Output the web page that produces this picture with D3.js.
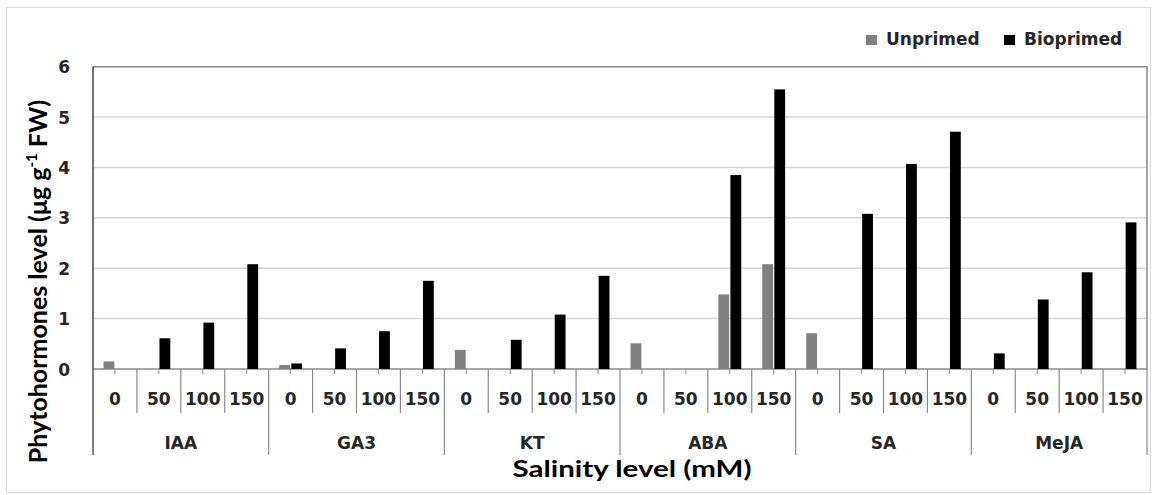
<!DOCTYPE html>
<html>
<head>
<meta charset="utf-8">
<script src="https://cdn.jsdelivr.net/npm/d3@7"></script>
<style>
  body { margin: 0; background: #fff; }
  text { font-family: "DejaVu Sans", Verdana, sans-serif; }
</style>
</head>
<body>
<script>
// hormone groups and salinity levels (mM)
const groups = ["IAA", "GA3", "KT", "ABA", "SA", "MeJA"];
const levels = ["0", "50", "100", "150"];
const seriesNames = ["Unprimed", "Bioprimed"];
const unprimed = [0.15, 0, 0, 0, 0.08, 0, 0, 0, 0.38, 0, 0, 0, 0.51, 0, 1.48, 2.08, 0.71, 0, 0, 0, 0, 0, 0, 0];
const bioprimed = [0, 0.61, 0.92, 2.08, 0.11, 0.41, 0.75, 1.75, 0, 0.58, 1.08, 1.85, 0, 0, 3.85, 5.55, 0, 3.08, 4.07, 4.71, 0.31, 1.38, 1.92, 2.91];
const yTicks = [0, 1, 2, 3, 4, 5, 6];

const width = 1152, height = 495;
const plot = { left: 93, right: 1147, top: 66.7, bottom: 369 };
const colors = { Unprimed: "#808080", Bioprimed: "#000000" };

const svg = d3.select("body").append("svg")
  .attr("width", width)
  .attr("height", height);

// outer chart frame
svg.append("rect")
  .attr("x", 6.5).attr("y", 7.5)
  .attr("width", 1144).attr("height", 485)
  .attr("fill", "none")
  .attr("stroke", "#d9d9d9");

// one row per category (group x level)
const rows = [];
groups.forEach((g, gi) => {
  levels.forEach((l, li) => {
    const i = gi * levels.length + li;
    rows.push({ key: g + "|" + l, group: g, level: l, Unprimed: unprimed[i], Bioprimed: bioprimed[i] });
  });
});

const x = d3.scaleBand()
  .domain(rows.map(d => d.key))
  .range([plot.left, plot.right])
  .paddingInner(0.48)
  .paddingOuter(0.24);
const step = x.step();
const catStart = k => x(k) - x.paddingOuter() * step;

const xs = d3.scaleBand()
  .domain(seriesNames)
  .range([0, x.bandwidth()])
  .paddingInner(0.1);

const y = d3.scaleLinear().domain([0, 6]).range([plot.bottom, plot.top]);

// gridlines
svg.append("g")
  .selectAll("line")
  .data(yTicks.filter(t => t > 0 && t < 6))
  .join("line")
  .attr("x1", plot.left).attr("x2", plot.right)
  .attr("y1", d => y(d)).attr("y2", d => y(d))
  .attr("stroke", "#d6d6d6")
  .attr("stroke-width", 1.5);

// plot border (top/right/bottom)
svg.append("path")
  .attr("d", `M${plot.left},${y(6)}H${plot.right}V${plot.bottom}H${plot.left}`)
  .attr("fill", "none")
  .attr("stroke", "#8a8a8a")
  .attr("stroke-width", 1.5);

// bars
const cat = svg.append("g").selectAll("g")
  .data(rows)
  .join("g")
  .attr("transform", d => `translate(${x(d.key)},0)`);

cat.selectAll("rect")
  .data(d => seriesNames.map(s => ({ s, v: d[s] })))
  .join("rect")
  .attr("x", d => xs(d.s))
  .attr("width", xs.bandwidth())
  .attr("y", d => y(d.v))
  .attr("height", d => y(0) - y(d.v))
  .attr("fill", d => colors[d.s]);

// y axis
const yAxis = svg.append("g")
  .attr("transform", `translate(${plot.left},0)`)
  .call(d3.axisLeft(y).tickValues(yTicks).tickFormat(d3.format("d")).tickSize(0).tickPadding(23));
yAxis.select(".domain").remove();
yAxis.selectAll("text")
  .attr("font-family", "DejaVu Sans")
  .attr("font-weight", "bold")
  .attr("font-size", 17)
  .attr("fill", "#262626")
  .attr("dy", "0.36em");
svg.append("line")
  .attr("x1", plot.left).attr("x2", plot.left)
  .attr("y1", plot.top).attr("y2", 455)
  .attr("stroke", "#404040")
  .attr("stroke-width", 1.5);

// x axis: small ticks at category centres
const xAxis = svg.append("g");
xAxis.selectAll("line.tick")
  .data(rows)
  .join("line")
  .attr("class", "tick")
  .attr("x1", d => x(d.key) + x.bandwidth() / 2)
  .attr("x2", d => x(d.key) + x.bandwidth() / 2)
  .attr("y1", plot.bottom).attr("y2", plot.bottom + 5)
  .attr("stroke", "#8a8a8a");

// category dividers (short) and group dividers (long)
xAxis.selectAll("line.div")
  .data(rows)
  .join("line")
  .attr("class", "div")
  .attr("x1", d => catStart(d.key)).attr("x2", d => catStart(d.key))
  .attr("y1", plot.bottom)
  .attr("y2", d => d.level === levels[0] ? 455 : 413)
  .attr("stroke", "#8a8a8a")
  .attr("stroke-width", 1.2);
xAxis.append("line")
  .attr("x1", plot.right).attr("x2", plot.right)
  .attr("y1", plot.bottom).attr("y2", 455)
  .attr("stroke", "#8a8a8a")
  .attr("stroke-width", 1.2);

// level labels
xAxis.selectAll("text.level")
  .data(rows)
  .join("text")
  .attr("class", "level")
  .attr("x", d => catStart(d.key) + step / 2)
  .attr("y", 405)
  .attr("text-anchor", "middle")
  .attr("font-weight", "bold")
  .attr("font-size", 17)
  .attr("fill", "#262626")
  .text(d => d.level);

// group labels
xAxis.selectAll("text.group")
  .data(groups)
  .join("text")
  .attr("class", "group")
  .attr("x", g => catStart(g + "|" + levels[0]) + step * levels.length / 2)
  .attr("y", 449)
  .attr("text-anchor", "middle")
  .attr("font-weight", "bold")
  .attr("font-size", 17)
  .attr("fill", "#262626")
  .text(g => g);

// axis titles
svg.append("text")
  .attr("x", 632)
  .attr("y", 477)
  .attr("text-anchor", "middle")
  .attr("font-weight", "bold")
  .attr("font-size", 23)
  .attr("fill", "#000")
  .attr("textLength", 239)
  .attr("lengthAdjust", "spacingAndGlyphs")
  .style("font-family", "Lato")
  .text("Salinity level (mM)");

const yTitle = svg.append("text")
  .attr("transform", "translate(47,281.5) rotate(-90)")
  .attr("text-anchor", "middle")
  .attr("font-weight", "bold")
  .attr("font-size", 25)
  .attr("fill", "#000")
  .style("font-family", "Lato");
yTitle.append("tspan").text("Phytohormones level (μg g");
yTitle.append("tspan").attr("font-size", 15).attr("dy", -10).text("-1");
yTitle.append("tspan").attr("dy", 10).text(" FW)");

// legend
const legend = svg.append("g").attr("transform", "translate(866,35)");
const legendX = [0, 138];
const li = legend.selectAll("g")
  .data(seriesNames)
  .join("g")
  .attr("transform", (d, i) => `translate(${legendX[i]},0)`);
li.append("rect")
  .attr("width", 11).attr("height", 10)
  .attr("fill", d => colors[d]);
li.append("text")
  .attr("x", 20)
  .attr("y", 10)
  .attr("font-weight", "bold")
  .attr("font-size", 17)
  .attr("fill", "#262626")
  .text(d => d);
</script>
</body>
</html>
